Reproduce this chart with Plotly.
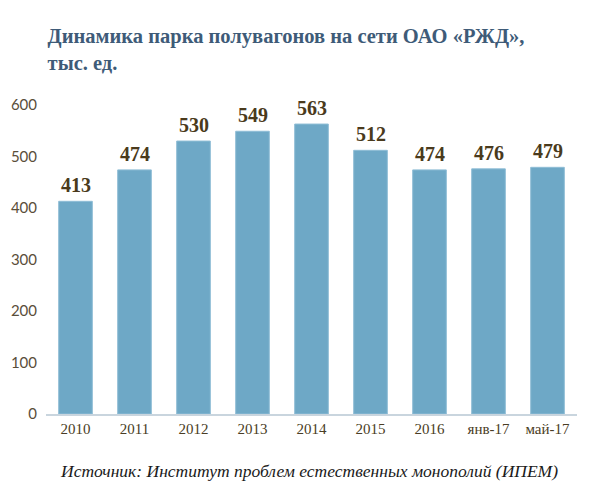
import plotly.graph_objects as go

categories = ["2010", "2011", "2012", "2013", "2014", "2015", "2016", "янв-17", "май-17"]
values = [413, 474, 530, 549, 563, 512, 474, 476, 479]
y_ticks = [0, 100, 200, 300, 400, 500, 600]

serif = "'Liberation Serif', 'DejaVu Serif', serif"
sans = "Lato, 'Open Sans', sans-serif"

fig = go.Figure(go.Bar(
    x=categories, y=values,
    marker=dict(color="#6ea8c6", line=dict(color="#8fbdd6", width=1)),
    width=0.57,
))

# category axis: annotation x given as category index
for i, v in enumerate(values):
    fig.add_annotation(
        x=i, y=v, text=f"<b>{v}</b>", showarrow=False,
        xanchor="center", yanchor="bottom", yshift=3,
        font=dict(family=serif, size=20, color="#4a3a1c"),
    )

fig.update_layout(
    width=600, height=500,
    margin=dict(l=38, r=31, t=97, b=94),
    paper_bgcolor="white", plot_bgcolor="white",
    showlegend=False,
    title=dict(
        text="<b>Динамика парка полувагонов на сети ОАО «РЖД»,<br>тыс. ед.</b>",
        x=0.066, xanchor="left", y=0.93, yanchor="top",
        font=dict(family=serif, size=20.5, color="#3e5b78"),
    ),
    xaxis=dict(
        type="category", categoryorder="array", categoryarray=categories,
        range=[-0.5, len(categories) - 0.5],
        showline=True, linecolor="#c9d5de", linewidth=2,
        ticks="", showgrid=False, automargin=False,
        tickfont=dict(family=serif, size=15, color="#4a3d25"),
    ),
    yaxis=dict(
        range=[0, 600], tickvals=y_ticks, showgrid=False, zeroline=False,
        showline=False, ticks="", ticklabelstandoff=8, automargin=False,
        tickfont=dict(family=sans, size=15, color="#5a4e3a"),
    ),
)
fig.add_annotation(
    text="<i>Источник: Институт проблем естественных монополий (ИПЕМ)</i>",
    xref="paper", yref="paper", x=0.495, y=-0.145, xanchor="center", yanchor="top",
    showarrow=False, font=dict(family=serif, size=17.5, color="#1a1a1a"),
)

fig.write_html("out.html")
